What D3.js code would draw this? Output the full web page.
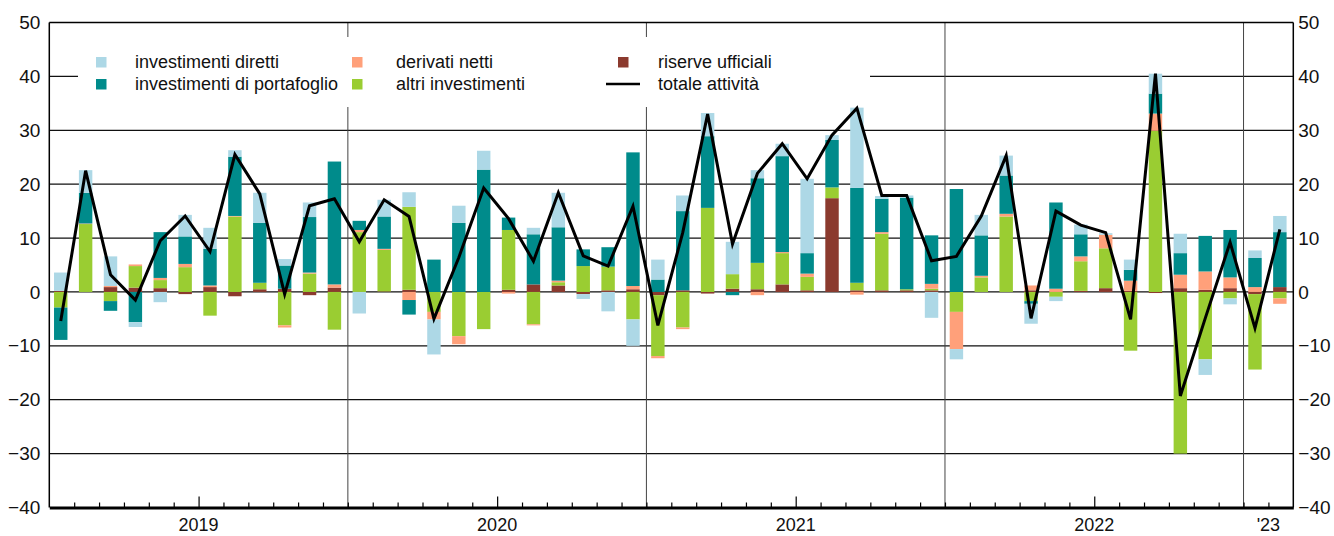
<!DOCTYPE html>
<html>
<head>
<meta charset="utf-8">
<script src="https://cdn.jsdelivr.net/npm/d3@7"></script>
<style>
  body { margin: 0; background: #fff; }
  svg { display: block; font-family: "Liberation Sans", Arial, sans-serif; }
</style>
</head>
<body>
<div id="chart"></div>
<script>
// months Jan 2019 - Feb 2023
var months = [
  "2019-01","2019-02","2019-03","2019-04","2019-05","2019-06","2019-07","2019-08","2019-09","2019-10","2019-11","2019-12",
  "2020-01","2020-02","2020-03","2020-04","2020-05","2020-06","2020-07","2020-08","2020-09","2020-10","2020-11","2020-12",
  "2021-01","2021-02","2021-03","2021-04","2021-05","2021-06","2021-07","2021-08","2021-09","2021-10","2021-11","2021-12",
  "2022-01","2022-02","2022-03","2022-04","2022-05","2022-06","2022-07","2022-08","2022-09","2022-10","2022-11","2022-12",
  "2023-01","2023-02"
]
var yearLabels = ["2019", "2020", "2021", "2022", "'23"]
var yearStart = [0, 12, 24, 36, 48]
var yearEnd = [12, 24, 36, 48, 50]

var diretti = [3.4, 4.2, 5.5, -0.9, -1.9, 4.0, 3.9, 1.2, 5.6, 1.2, 2.7, 0,
  -4.0, 3.1, 2.7, -6.5, 3.2, 3.5, 0, 1.2, 6.4, -0.9, -3.6, -4.9,
  3.7, 2.9, 4.3, 6.0, 1.5, 2.3, 13.8, 0.9, 14.9, 0.5, 0.4, -4.8,
  -1.9, 3.8, 3.7, -3.7, -0.8, 1.8, 0.3, 1.9, 3.7, 3.6, -2.9, -1.1,
  1.4, 3.0]
var portafoglio = [-6.0, 5.7, -1.8, -5.6, 8.5, 5.1, 6.8, 11.0, 11.1, 4.3, 10.3, 22.8,
  1.7, 6.0, -2.7, 6.0, 12.8, 22.7, 2.3, 9.3, 9.9, 3.1, 3.6, 24.8,
  2.3, 14.7, 13.3, -0.6, 15.7, 17.8, 3.8, 8.8, 17.6, 6.2, 17.0, 9.0,
  19.1, 7.5, 7.1, -0.5, 16.0, 4.1, 0, 2.0, 3.7, 4.0, 6.6, 8.8,
  5.4, 10.2]
var derivati = [0, 0.1, 0.2, 0.3, 0.4, 0.6, 0.3, 0.1, 0, -0.4, 0.2, 0.6,
  0.4, 0.2, -1.5, -1.4, -1.5, 0, -0.3, -0.2, 0.3, 0, 0, 0.6,
  -0.4, -0.3, 0, 0, -0.6, 0.2, 0.6, 0, -0.5, 0.3, 0, 0.9,
  -6.9, 0.3, 0.5, 0.9, 0.6, 0.9, 2.5, 1.9, 3.2, 2.5, 3.4, 2.0,
  0.9, -1.0]
var altri = [-2.9, 12.6, -1.7, 4.0, 1.5, 4.6, -4.4, 14.0, 1.2, -6.2, 3.4, -7.0,
  11.1, 7.7, 15.4, -3.7, -8.2, -6.9, 11.1, -6.0, 0.6, 4.8, 4.4, -5.1,
  -11.3, -6.6, 15.6, 2.7, 4.9, 5.8, 2.5, 2.0, 1.4, 10.5, 0.2, 0.3,
  -3.7, 2.7, 14.0, -1.7, -0.9, 5.5, 7.4, -10.9, 29.9, -30.0, -12.5, -1.2,
  -14.0, -1.2]
var riserve = [0.2, 0, 0.9, 0.8, 0.7, -0.4, 0.9, -0.8, 0.5, 0.6, -0.6, 0.8,
  0, 0.1, 0.4, 0, 0, 0, 0.4, 1.4, 1.2, -0.4, 0.3, 0.5,
  -0.6, 0.3, -0.3, 0.6, 0.5, 1.4, 0.3, 17.4, 0.3, 0.3, 0.3, 0.3,
  0, 0, 0, 0.3, 0, 0.2, 0.7, 0.2, -0.2, 0.7, 0.4, 0.7,
  -0.4, 0.9]
var totale = [-5.4, 22.5, 3.2, -1.5, 9.5, 14.1, 7.5, 25.5, 18.2, -0.4, 16.0, 17.3,
  9.3, 17.1, 14.0, -5.0, 6.4, 19.3, 13.6, 5.7, 18.4, 6.7, 4.8, 15.9,
  -6.2, 11.0, 33.0, 8.9, 22.0, 27.5, 21.0, 29.1, 34.1, 17.9, 17.9, 5.8,
  6.6, 14.1, 25.3, -4.9, 15.0, 12.4, 11.0, -5.1, 40.5, -19.3, -4.9, 9.2,
  -6.7, 11.6]
var yTicks = [-40, -30, -20, -10, 0, 10, 20, 30, 40, 50]

var width = 1334
var height = 536
var margins = { top: 22.5, right: 40.7, bottom: 28.5, left: 49.3 }

var svg = d3.select("#chart")
  .append("svg")
  .attr("width", width)
  .attr("height", height)

// stacking order from zero outwards
var keys = ["riserve", "altri", "derivati", "portafoglio", "diretti"]
var colors = {
  diretti: "#add8e6",
  portafoglio: "#008b8b",
  derivati: "#ffa07a",
  altri: "#9acd32",
  riserve: "#8b3a2e"
}
var labels = {
  diretti: "investimenti diretti",
  portafoglio: "investimenti di portafoglio",
  derivati: "derivati netti",
  altri: "altri investimenti",
  riserve: "riserve ufficiali"
}

var table = months.map((m, i) => ({
  month: m,
  diretti: diretti[i],
  portafoglio: portafoglio[i],
  derivati: derivati[i],
  altri: altri[i],
  riserve: riserve[i],
  totale: totale[i]
}))

var x0 = margins.left
var x1 = width - margins.right
var y0 = margins.top
var y1 = height - margins.bottom

var xScale = d3.scaleBand()
  .domain(months)
  .range([x0, x1])
  .paddingInner(0.46)
  .paddingOuter(0.23)
var xIdx = d3.scaleLinear().domain([0, months.length]).range([x0, x1])
var yScale = d3.scaleLinear().domain([-40, 50]).range([y1, y0])

// horizontal grid
svg.append("g")
  .selectAll("line")
  .data(yTicks.filter(d => d > -40 && d < 50))
  .enter()
  .append("line")
  .attr("x1", x0).attr("x2", x1)
  .attr("y1", d => yScale(d)).attr("y2", d => yScale(d))
  .attr("stroke", "#111")
  .attr("stroke-width", 1.2)

// year dividers
svg.append("g")
  .selectAll("line")
  .data(yearStart.slice(1))
  .enter()
  .append("line")
  .attr("x1", d => xIdx(d)).attr("x2", d => xIdx(d))
  .attr("y1", y0).attr("y2", y1)
  .attr("stroke", "#444")
  .attr("stroke-width", 1)

// legend background
svg.append("rect")
  .attr("x", 78).attr("y", 37)
  .attr("width", 792).attr("height", 70)
  .attr("fill", "#fff")

// bars
var series = d3.stack().keys(keys).offset(d3.stackOffsetDiverging)(table)
svg.append("g")
  .selectAll("g")
  .data(series)
  .enter()
  .append("g")
  .attr("fill", d => colors[d.key])
  .selectAll("rect")
  .data(d => d)
  .enter()
  .append("rect")
  .attr("x", d => xScale(d.data.month) - 1)
  .attr("width", xScale.bandwidth())
  .attr("y", d => yScale(Math.max(d[0], d[1])))
  .attr("height", d => Math.abs(yScale(d[0]) - yScale(d[1])))

// total line
var line = d3.line()
  .x(d => xScale(d.month) - 1 + xScale.bandwidth() / 2)
  .y(d => yScale(d.totale))
svg.append("path")
  .datum(table)
  .attr("d", line)
  .attr("fill", "none")
  .attr("stroke", "#000")
  .attr("stroke-width", 3)
  .attr("stroke-linejoin", "miter")

// frame
svg.append("line").attr("x1", x0).attr("x2", x1).attr("y1", y0).attr("y2", y0)
  .attr("stroke", "#000").attr("stroke-width", 1.5)
svg.append("line").attr("x1", x0).attr("x2", x0).attr("y1", y0).attr("y2", y1)
  .attr("stroke", "#000").attr("stroke-width", 1.5)
svg.append("line").attr("x1", x1).attr("x2", x1).attr("y1", y0).attr("y2", y1)
  .attr("stroke", "#000").attr("stroke-width", 1.5)

// x axis with month ticks
var xaxis = d3.axisBottom(xIdx)
  .tickValues(d3.range(1, months.length))
  .tickSize(-5)
  .tickSizeOuter(0)
  .tickFormat("")
var gx = svg.append("g")
  .attr("transform", "translate(0," + y1 + ")")
  .call(xaxis)
gx.select(".domain").attr("stroke", "#000").attr("stroke-width", 3)
gx.selectAll(".tick line")
  .attr("stroke", "#000")
  .attr("stroke-width", 1.2)
  .attr("y2", d => (d % 12 == 6 ? -11 : -5))

// year labels
svg.append("g")
  .selectAll("text")
  .data(yearLabels)
  .enter()
  .append("text")
  .attr("x", (d, i) => (xIdx(yearStart[i]) + xIdx(yearEnd[i])) / 2)
  .attr("y", 531)
  .attr("text-anchor", "middle")
  .attr("font-size", "18px")
  .attr("fill", "#111")
  .text(d => d)

// y axes
var fmt = d => (d < 0 ? "\u2212" + Math.abs(d) : d)
var yaxisL = d3.axisLeft(yScale).tickValues(yTicks).tickSize(0).tickPadding(9).tickFormat(fmt)
var yaxisR = d3.axisRight(yScale).tickValues(yTicks).tickSize(0).tickPadding(5).tickFormat(fmt)
var gl = svg.append("g").attr("transform", "translate(" + x0 + ",0)").call(yaxisL)
var gr = svg.append("g").attr("transform", "translate(" + x1 + ",0)").call(yaxisR)
;[gl, gr].forEach(g => {
  g.select(".domain").remove()
  g.selectAll("text")
    .attr("font-size", "19px")
    .attr("font-family", "Liberation Sans, Arial, sans-serif")
    .attr("fill", "#111")
})

// legend
var legendItems = [
  { key: "diretti", col: 0, row: 0 },
  { key: "portafoglio", col: 0, row: 1 },
  { key: "derivati", col: 1, row: 0 },
  { key: "altri", col: 1, row: 1 },
  { key: "riserve", col: 2, row: 0 }
]
var colSquare = [96, 352, 618]
var colText = [135, 396, 658]
var rowY = [68, 90]

var legend = svg.append("g")
legend.selectAll("rect")
  .data(legendItems)
  .enter()
  .append("rect")
  .attr("x", d => colSquare[d.col])
  .attr("y", d => rowY[d.row] - 11)
  .attr("width", 10.5)
  .attr("height", 10.5)
  .attr("fill", d => colors[d.key])
legend.selectAll("text.item")
  .data(legendItems)
  .enter()
  .append("text")
  .attr("class", "item")
  .attr("x", d => colText[d.col])
  .attr("y", d => rowY[d.row])
  .attr("font-size", "18px")
  .attr("fill", "#111")
  .text(d => labels[d.key])
legend.append("line")
  .attr("x1", 606).attr("x2", 640)
  .attr("y1", rowY[1] - 6).attr("y2", rowY[1] - 6)
  .attr("stroke", "#000")
  .attr("stroke-width", 2.5)
legend.append("text")
  .attr("x", colText[2])
  .attr("y", rowY[1])
  .attr("font-size", "18px")
  .attr("fill", "#111")
  .text("totale attività")
</script>
</body>
</html>
